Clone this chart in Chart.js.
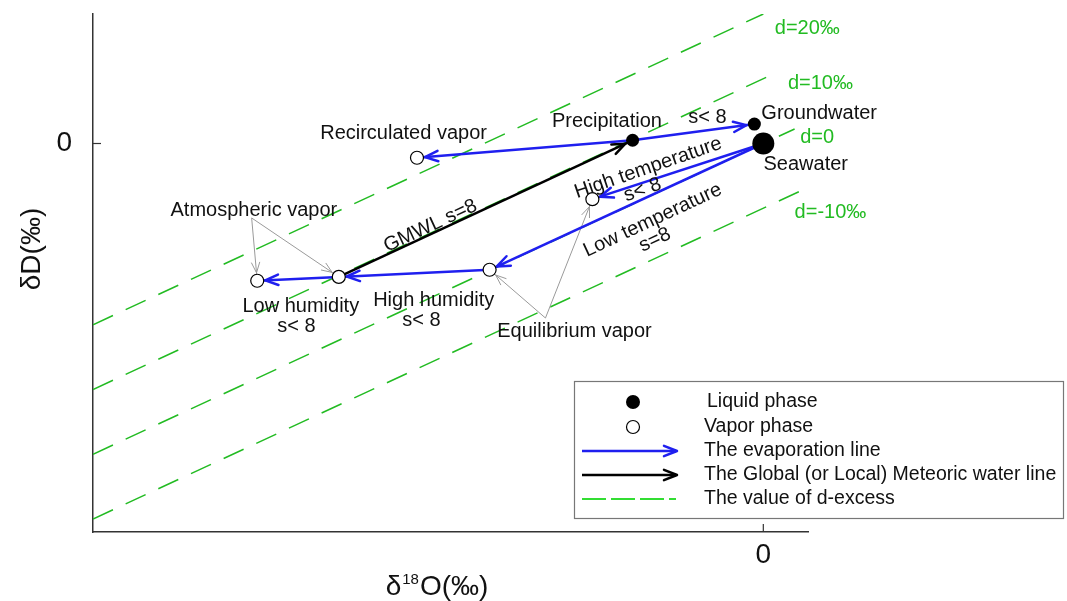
<!DOCTYPE html>
<html>
<head>
<meta charset="utf-8">
<script src="https://cdn.jsdelivr.net/npm/chart.js@4.4.0/dist/chart.umd.min.js"></script>
<style>
  html, body { margin: 0; padding: 0; background: #fff; }
  #wrap { width: 1067px; height: 601px; position: relative; }
</style>
</head>
<body>
<div id="wrap"><canvas id="isotopeChart"></canvas></div>
<script>
// axis ranges and ticks (per mil)
const xRange = [-6, 0.4];
const yRange = [-60, 20];
const xTicks = [0];
const yTicks = [0];

// liquid phase points
const liquidNames = ['Seawater', 'Groundwater', 'Precipitation'];
const liquidX = [0, -0.08, -1.17];
const liquidY = [0, 3.0, 0.5];
const liquidRadius = [11, 6.5, 6.5];

// vapor phase points
const vaporNames = ['Recirculated', 'HighTemp', 'Equilibrium', 'Atmospheric', 'LowHumidity'];
const vaporX = [-3.10, -1.53, -2.45, -3.80, -4.53];
const vaporY = [-2.2, -8.6, -19.5, -20.6, -21.2];

// evaporation lines (from -> to)
const evapFrom = ['Precipitation', 'Precipitation', 'Seawater', 'Seawater', 'Equilibrium', 'Atmospheric'];
const evapTo = ['Recirculated', 'Groundwater', 'HighTemp', 'Equilibrium', 'Atmospheric', 'LowHumidity'];

// meteoric water line
const gmwlFrom = ['Atmospheric'];
const gmwlTo = ['Precipitation'];

// d-excess lines
const dExcess = [20, 10, 0, -10];
const dStartX = [-6, -6, -6, -6];
const dStartY = [-28, -38, -48, -58];
const dEndX = [0, 0.1, 0.28, 0.33];
const dEndY = [20, 10.8, 2.24, -7.36];
const dLabelX = [0.103, 0.22, 0.33, 0.28];
const dLabelY = [17.8, 9.2, 1.0, -10.6];

// callout pointers
const pointerFromX = [-4.58, -4.58, -1.95, -1.95];
const pointerFromY = [-11.5, -11.5, -26.95, -26.95];
const pointerTo = ['LowHumidity', 'Atmospheric', 'Equilibrium', 'HighTemp'];

// text annotations
const labelText = ['Recirculated vapor', 'Precipitation', 's< 8', 'Groundwater', 'Seawater',
  'High temperature', 's< 8', 'Low temperature', 's=8', 'GMWL s=8',
  'Low humidity', 's< 8', 'High humidity', 's< 8', 'Equilibrium vapor', 'Atmospheric vapor'];
const labelX = [-3.22, -1.40, -0.50, 0.50, 0.38, -1.03, -1.08, -0.99, -0.97, -2.98, -4.14, -4.18, -2.95, -3.06, -1.69, -4.56];
const labelY = [1.47, 3.47, 4.09, 4.56, -3.17, -3.78, -7.18, -11.85, -14.9, -12.74, -25.1, -28.3, -24.2, -27.4, -28.96, -10.4];
const labelAngle = [0, 0, 0, 0, 0, -19, -19, -25, -25, -25, 0, 0, 0, 0, 0, 0];

const legendLabels = ['Liquid phase', 'Vapor phase', 'The evaporation line',
  'The Global (or Local) Meteoric water line', 'The value of d-excess'];

const BLUE = '#1f1fef';
const GREEN = '#22bb22';
const GRAY = '#9a9a9a';
const FONT = "'Liberation Sans', Arial, sans-serif";

const findPoint = (name) => {
  let i = liquidNames.indexOf(name);
  if (i >= 0) {
    return { x: liquidX[i], y: liquidY[i], r: liquidRadius[i] };
  }
  i = vaporNames.indexOf(name);
  return { x: vaporX[i], y: vaporY[i], r: 6.5 };
};

const arrowSet = (from, to, color, width, order) => ({
  data: [{ x: from.x, y: from.y }, { x: to.x, y: to.y }],
  showLine: true,
  borderColor: color,
  borderWidth: width,
  pointRadius: 0,
  arrow: { gap: to.r + 1.5, size: width > 1.5 ? 14 : 11 },
  order: order,
});

const datasets = [];

datasets.push({
  label: 'Liquid phase',
  data: liquidX.map((x, i) => ({ x: x, y: liquidY[i] })),
  pointRadius: liquidRadius,
  backgroundColor: '#000',
  borderWidth: 0,
  order: 0,
});

datasets.push({
  label: 'Vapor phase',
  data: vaporX.map((x, i) => ({ x: x, y: vaporY[i] })),
  pointRadius: 6.5,
  backgroundColor: '#fff',
  borderColor: '#000',
  borderWidth: 1.2,
  order: 0,
});

evapFrom.forEach((name, i) => {
  datasets.push(arrowSet(findPoint(name), findPoint(evapTo[i]), BLUE, 2.5, 1));
});

gmwlFrom.forEach((name, i) => {
  datasets.push(arrowSet(findPoint(name), findPoint(gmwlTo[i]), '#000', 2.5, 1));
});

pointerTo.forEach((name, i) => {
  const from = { x: pointerFromX[i], y: pointerFromY[i] };
  datasets.push(arrowSet(from, findPoint(name), GRAY, 1, 2));
});

dExcess.forEach((d, i) => {
  datasets.push({
    label: 'd=' + d,
    data: [{ x: dStartX[i], y: dStartY[i] }, { x: dEndX[i], y: dEndY[i] }],
    showLine: true,
    borderColor: GREEN,
    borderWidth: 1.5,
    borderDash: [22, 14],
    pointRadius: 0,
    order: 3,
  });
});

const drawHead = (ctx, tipX, tipY, ang, size, color, width) => {
  const spread = 0.38;
  ctx.save();
  ctx.strokeStyle = color;
  ctx.lineWidth = width;
  ctx.lineCap = 'round';
  ctx.lineJoin = 'round';
  ctx.beginPath();
  ctx.moveTo(tipX - size * Math.cos(ang - spread), tipY - size * Math.sin(ang - spread));
  ctx.lineTo(tipX, tipY);
  ctx.lineTo(tipX - size * Math.cos(ang + spread), tipY - size * Math.sin(ang + spread));
  ctx.stroke();
  ctx.restore();
};

const arrowHeads = {
  id: 'arrowHeads',
  afterDatasetDraw(chart, args) {
    const ds = chart.data.datasets[args.index];
    if (!ds.arrow) {
      return;
    }
    const pts = args.meta.data;
    const a = pts[0];
    const b = pts[pts.length - 1];
    const ang = Math.atan2(b.y - a.y, b.x - a.x);
    const tipX = b.x - ds.arrow.gap * Math.cos(ang);
    const tipY = b.y - ds.arrow.gap * Math.sin(ang);
    drawHead(chart.ctx, tipX, tipY, ang, ds.arrow.size, ds.borderColor, ds.borderWidth);
  },
};

const annotations = {
  id: 'annotations',
  afterDatasetsDraw(chart) {
    const ctx = chart.ctx;
    const xs = chart.scales.x;
    const ys = chart.scales.y;

    ctx.save();
    ctx.textAlign = 'center';
    ctx.textBaseline = 'middle';
    ctx.fillStyle = '#111';
    ctx.font = '20px ' + FONT;
    labelText.forEach((text, i) => {
      ctx.save();
      ctx.translate(xs.getPixelForValue(labelX[i]), ys.getPixelForValue(labelY[i]));
      ctx.rotate(labelAngle[i] * Math.PI / 180);
      ctx.fillText(text, 0, 0);
      ctx.restore();
    });

    ctx.fillStyle = GREEN;
    ctx.textAlign = 'left';
    dExcess.forEach((d, i) => {
      const text = d === 0 ? 'd=0' : 'd=' + d + '\u2030';
      ctx.fillText(text, xs.getPixelForValue(dLabelX[i]), ys.getPixelForValue(dLabelY[i]));
    });
    ctx.restore();
  },
  afterDraw(chart) {
    const ctx = chart.ctx;
    const area = chart.chartArea;
    const xs = chart.scales.x;
    const ys = chart.scales.y;

    // inward tick marks
    ctx.save();
    ctx.strokeStyle = '#333';
    ctx.lineWidth = 1.2;
    xTicks.forEach((v) => {
      const px = xs.getPixelForValue(v);
      ctx.beginPath();
      ctx.moveTo(px, area.bottom);
      ctx.lineTo(px, area.bottom - 8);
      ctx.stroke();
    });
    yTicks.forEach((v) => {
      const py = ys.getPixelForValue(v);
      ctx.beginPath();
      ctx.moveTo(area.left, py);
      ctx.lineTo(area.left + 8, py);
      ctx.stroke();
    });

    // axis titles
    ctx.fillStyle = '#111';
    ctx.textBaseline = 'alphabetic';
    ctx.font = '28px ' + FONT;
    const w1 = ctx.measureText('\u03B4').width;
    const w3 = ctx.measureText('O(\u2030)').width;
    ctx.font = '15px ' + FONT;
    const w2 = ctx.measureText('18').width + 2;
    const tx = 437 - (w1 + w2 + w3) / 2;
    ctx.font = '28px ' + FONT;
    ctx.textAlign = 'left';
    ctx.fillText('\u03B4', tx, 595);
    ctx.font = '15px ' + FONT;
    ctx.fillText('18', tx + w1 + 1, 584);
    ctx.font = '28px ' + FONT;
    ctx.fillText('O(\u2030)', tx + w1 + w2, 595);

    ctx.save();
    ctx.translate(32, 249);
    ctx.rotate(-Math.PI / 2);
    ctx.textAlign = 'center';
    ctx.textBaseline = 'middle';
    ctx.fillText('\u03B4D(\u2030)', 0, 0);
    ctx.restore();

    // legend box
    const box = { left: 574, top: 381, right: 1063, bottom: 518 };
    const rows = [402, 427, 451, 475, 499];
    ctx.fillStyle = '#fff';
    ctx.fillRect(box.left, box.top, box.right - box.left, box.bottom - box.top);
    ctx.strokeStyle = '#777';
    ctx.lineWidth = 1.2;
    ctx.strokeRect(box.left + 0.5, box.top + 0.5, box.right - box.left, box.bottom - box.top);

    ctx.fillStyle = '#000';
    ctx.beginPath();
    ctx.arc(633, rows[0], 7, 0, Math.PI * 2);
    ctx.fill();

    ctx.fillStyle = '#fff';
    ctx.strokeStyle = '#000';
    ctx.lineWidth = 1.2;
    ctx.beginPath();
    ctx.arc(633, rows[1], 6.5, 0, Math.PI * 2);
    ctx.fill();
    ctx.stroke();

    [BLUE, '#000'].forEach((color, k) => {
      const y = rows[2 + k];
      ctx.strokeStyle = color;
      ctx.lineWidth = 2.5;
      ctx.beginPath();
      ctx.moveTo(582, y);
      ctx.lineTo(676, y);
      ctx.stroke();
      drawHead(ctx, 677, y, 0, 14, color, 2.5);
    });

    ctx.strokeStyle = '#33dd33';
    ctx.lineWidth = 2;
    ctx.setLineDash([24, 5]);
    ctx.beginPath();
    ctx.moveTo(582, rows[4]);
    ctx.lineTo(676, rows[4]);
    ctx.stroke();
    ctx.setLineDash([]);

    ctx.fillStyle = '#111';
    ctx.font = '19.5px ' + FONT;
    ctx.textAlign = 'left';
    ctx.textBaseline = 'middle';
    const textX = [707, 704, 704, 704, 704];
    legendLabels.forEach((text, i) => {
      ctx.fillText(text, textX[i], rows[i]);
    });
    ctx.restore();
  },
};

Chart.defaults.font.family = FONT;
Chart.defaults.color = '#111';

new Chart(document.getElementById('isotopeChart'), {
  type: 'scatter',
  data: { datasets: datasets },
  options: {
    responsive: true,
    maintainAspectRatio: false,
    animation: false,
    events: [],
    layout: { padding: { top: 14, right: 259, left: 0, bottom: 0 } },
    plugins: {
      legend: { display: false },
      tooltip: { enabled: false },
    },
    scales: {
      x: {
        type: 'linear',
        min: xRange[0],
        max: xRange[1],
        afterBuildTicks: (scale) => { scale.ticks = xTicks.map((v) => ({ value: v })); },
        afterFit: (scale) => {
          scale.height = 69;
          scale.paddingLeft = 0;
          scale.paddingRight = 0;
        },
        grid: { display: false, drawTicks: false },
        border: { display: true, color: '#333', width: 1.5 },
        ticks: { font: { size: 28 }, padding: 6, color: '#111' },
      },
      y: {
        type: 'linear',
        min: yRange[0],
        max: yRange[1],
        afterBuildTicks: (scale) => { scale.ticks = yTicks.map((v) => ({ value: v })); },
        afterFit: (scale) => {
          scale.width = 93;
          scale.paddingTop = 0;
          scale.paddingBottom = 0;
        },
        grid: { display: false, drawTicks: false },
        border: { display: true, color: '#333', width: 1.5 },
        ticks: { font: { size: 28 }, padding: 21, color: '#111' },
      },
    },
  },
  plugins: [arrowHeads, annotations],
});
</script>
</body>
</html>
